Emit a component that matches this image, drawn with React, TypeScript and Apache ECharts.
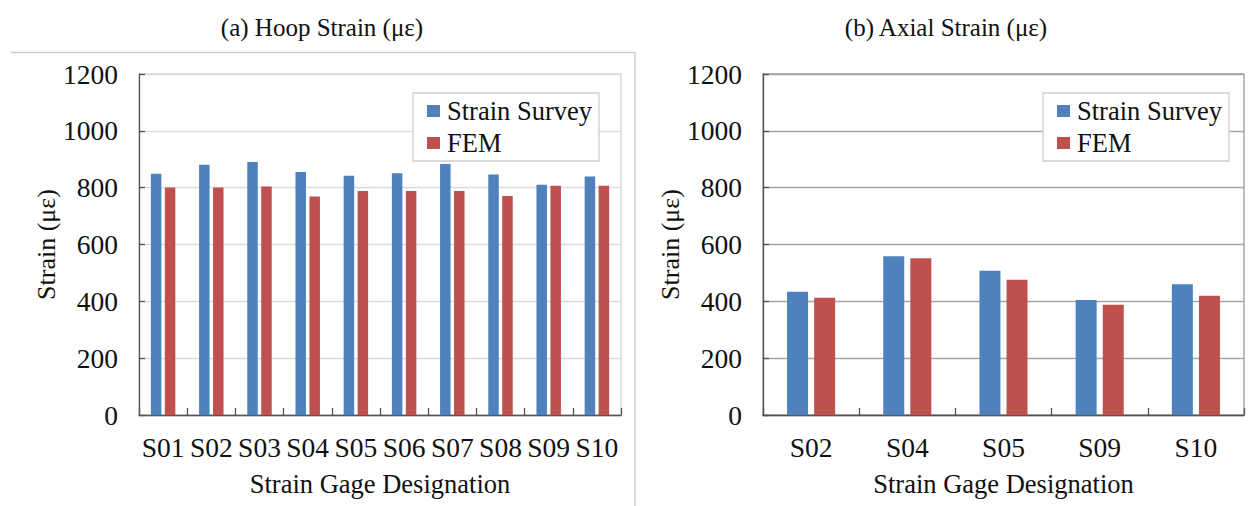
import React, { useEffect, useRef } from "react";
import * as echarts from "echarts";

// Series names shown in both legends
const seriesNames = ["Strain Survey", "FEM"];

// (a) Hoop strain, με
const hoopGages = ["S01", "S02", "S03", "S04", "S05", "S06", "S07", "S08", "S09", "S10"];
const hoopSurvey = [849, 881, 890, 855, 842, 851, 883, 846, 810, 839];
const hoopFem = [801, 801, 804, 769, 788, 788, 788, 771, 807, 807];

// (b) Axial strain, με
const axialGages = ["S02", "S04", "S05", "S09", "S10"];
const axialSurvey = [434, 559, 508, 405, 460];
const axialFem = [413, 552, 476, 388, 420];

// Shared value-axis range
const strainMin = 0;
const strainMax = 1200;
const strainStep = 200;

const titles = ["(a) Hoop Strain (με)", "(b) Axial Strain (με)"];
const yAxisName = "Strain (με)";
const xAxisName = "Strain Gage Designation";

const BLUE = "#4F81BD";
const RED = "#C0504D";
const FONT = '"Liberation Serif", "Times New Roman", serif';
const TEXT = "#111";
const AXIS = "#555";

function valueAxis(gridIndex: number, splitColor: string) {
  return {
    type: "value",
    gridIndex,
    min: strainMin,
    max: strainMax,
    interval: strainStep,
    name: yAxisName,
    nameLocation: "middle",
    nameGap: 78,
    nameTextStyle: { fontFamily: FONT, fontSize: 26, color: TEXT },
    axisLine: { show: true, lineStyle: { color: AXIS, width: 1.3 } },
    axisTick: { show: true, inside: true, length: 6, lineStyle: { color: AXIS, width: 1.3 } },
    axisLabel: {
      fontFamily: FONT,
      fontSize: 27.5,
      color: TEXT,
      margin: 21,
      formatter: (v: number) => String(v),
    },
    splitLine: { show: true, lineStyle: { color: splitColor, width: 1.3 } },
  };
}

function categoryAxis(gridIndex: number, data: string[]) {
  return {
    type: "category",
    gridIndex,
    data,
    boundaryGap: true,
    name: xAxisName,
    nameLocation: "middle",
    nameGap: 55,
    nameTextStyle: { fontFamily: FONT, fontSize: 26.5, color: TEXT },
    axisLine: { show: true, lineStyle: { color: AXIS, width: 1.3 } },
    axisTick: { show: true, inside: true, length: 7, alignWithLabel: false, lineStyle: { color: AXIS, width: 1.3 } },
    axisLabel: { fontFamily: FONT, fontSize: 27.5, color: TEXT, margin: 18, interval: 0 },
    splitLine: { show: false },
  };
}

function legend(left: number) {
  return {
    data: seriesNames,
    orient: "vertical",
    left,
    top: 93,
    itemWidth: 13,
    itemHeight: 12,
    itemGap: 4,
    icon: "rect",
    padding: [4, 7, 4, 14],
    borderColor: "#cfcfcf",
    borderWidth: 1.3,
    backgroundColor: "#fff",
    textStyle: { fontFamily: FONT, fontSize: 26.5, color: TEXT, lineHeight: 28, padding: [0, 0, 0, 2] },
  };
}

function panelTitle(text: string, x: number) {
  return {
    type: "text",
    x,
    y: 27,
    silent: true,
    style: { text, fontFamily: FONT, fontSize: 25, fill: TEXT, textAlign: "center", textVerticalAlign: "middle" },
  };
}

export default function App() {
  const ref = useRef<HTMLDivElement>(null);

  useEffect(() => {
    if (!ref.current) return;
    const chart = echarts.init(ref.current, undefined, { renderer: "svg" });
    chart.setOption({
      animation: false,
      backgroundColor: "#fff",
      grid: [
        { left: 139, top: 74, width: 482, height: 341, show: true, borderColor: "#d4d4d4", borderWidth: 1.3, containLabel: false },
        { left: 763, top: 74, width: 481, height: 341, show: true, borderColor: "#9a9a9a", borderWidth: 1.3, containLabel: false },
      ],
      xAxis: [categoryAxis(0, hoopGages), categoryAxis(1, axialGages)],
      yAxis: [valueAxis(0, "#dcdcdc"), valueAxis(1, "#a6a6a6")],
      legend: [legend(413), legend(1043)],
      series: [
        { name: seriesNames[0], type: "bar", xAxisIndex: 0, yAxisIndex: 0, data: hoopSurvey, barWidth: 10.5, barGap: "33%", itemStyle: { color: BLUE } },
        { name: seriesNames[1], type: "bar", xAxisIndex: 0, yAxisIndex: 0, data: hoopFem, barWidth: 10.5, barGap: "33%", itemStyle: { color: RED } },
        { name: seriesNames[0], type: "bar", xAxisIndex: 1, yAxisIndex: 1, data: axialSurvey, barWidth: 21, barGap: "29%", itemStyle: { color: BLUE } },
        { name: seriesNames[1], type: "bar", xAxisIndex: 1, yAxisIndex: 1, data: axialFem, barWidth: 21, barGap: "29%", itemStyle: { color: RED } },
      ],
      graphic: [
        // panel frame of the hoop-strain chart
        { type: "line", shape: { x1: 11, y1: 52.5, x2: 635, y2: 52.5 }, style: { stroke: "#cccccc", lineWidth: 1.5 }, silent: true },
        { type: "line", shape: { x1: 635, y1: 52.5, x2: 635, y2: 506 }, style: { stroke: "#cccccc", lineWidth: 1.5 }, silent: true },
        panelTitle(titles[0], 322),
        panelTitle(titles[1], 946),
      ],
    });
    return () => chart.dispose();
  }, []);

  return (
    <div
      ref={ref}
      style={{ position: "fixed", left: 0, top: 0, width: 1248, height: 506, background: "#fff" }}
    />
  );
}
